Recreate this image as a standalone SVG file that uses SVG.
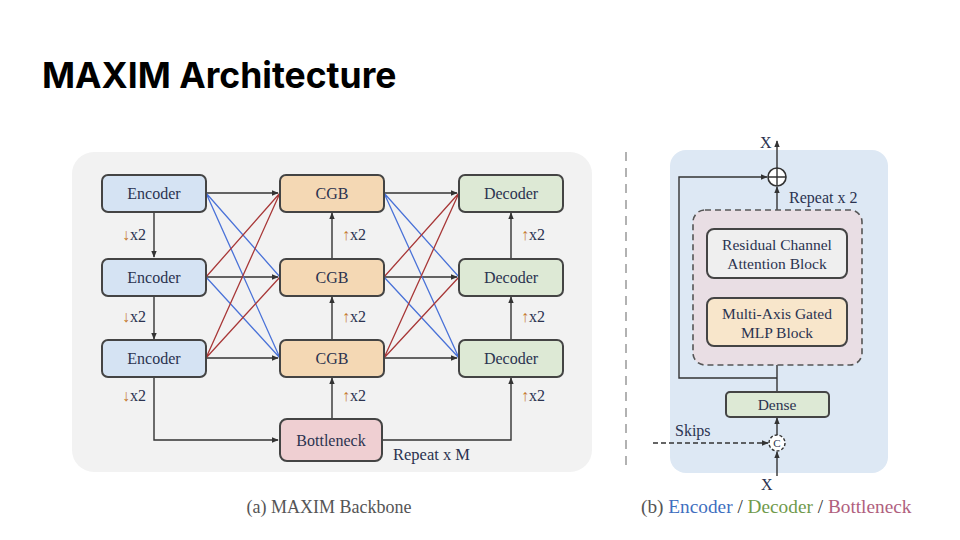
<svg xmlns="http://www.w3.org/2000/svg" width="960" height="540" viewBox="0 0 960 540">
<defs>
<marker id="ah" viewBox="0 0 10 10" refX="9" refY="5" markerWidth="5" markerHeight="5" orient="auto-start-reverse"><path d="M0,1 L10,5 L0,9 z" fill="#333"/></marker>
<style>
.box{stroke:#444;stroke-width:2}
.enc{fill:#d5e3f3}.cgb{fill:#f4d8b4}.dec{fill:#dde9d5}.bot{fill:#efcfd2}
.t{font-family:"Liberation Serif",serif;font-size:16px;fill:#2b3350;text-anchor:middle}
.r{font-size:15.5px}
.s{font-family:"Liberation Serif",serif;font-size:16px;fill:#2b3350}
.ln{stroke:#333;stroke-width:1.4;fill:none}
.bl{stroke:#4a72d8;stroke-width:1.3;fill:none}
.rd{stroke:#a83838;stroke-width:1.3;fill:none}
.ar{fill:#c57a30}
</style>
</defs>
<rect width="960" height="540" fill="#fff"/>
<text x="42" y="88" font-family="Inter, 'Liberation Sans', sans-serif" font-weight="700" font-size="35.5" fill="#000">MAXIM Architecture</text>

<rect x="72" y="152" width="520" height="320" rx="22" fill="#f2f2f2"/>
<rect x="670" y="150" width="218" height="323" rx="16" fill="#dde8f4"/>
<line x1="626" y1="152" x2="626" y2="470" stroke="#999" stroke-width="1.5" stroke-dasharray="9,7"/>

<g id="connectors">
<path class="ln" d="M206,193 H278" marker-end="url(#ah)"/>
<path class="ln" d="M206,277 H278" marker-end="url(#ah)"/>
<path class="ln" d="M206,358 H278" marker-end="url(#ah)"/>
<path class="ln" d="M384,193 H457" marker-end="url(#ah)"/>
<path class="ln" d="M384,277 H457" marker-end="url(#ah)"/>
<path class="ln" d="M384,358 H457" marker-end="url(#ah)"/>
<path class="ln" d="M154,212 V257" marker-end="url(#ah)"/>
<path class="ln" d="M154,296 V339" marker-end="url(#ah)"/>
<path class="ln" d="M154,377 V440 H278" marker-end="url(#ah)"/>
<path class="ln" d="M332,419 V378" marker-end="url(#ah)"/>
<path class="ln" d="M332,340 V297" marker-end="url(#ah)"/>
<path class="ln" d="M332,259 V213" marker-end="url(#ah)"/>
<path class="ln" d="M382,440 H511 V378" marker-end="url(#ah)"/>
<path class="ln" d="M511,340 V297" marker-end="url(#ah)"/>
<path class="ln" d="M511,259 V213" marker-end="url(#ah)"/>
<path class="bl" d="M206,193 L280,277 M206,193 L280,358 M206,277 L280,358"/>
<path class="rd" d="M206,277 L280,193 M206,358 L280,193 M206,358 L280,277"/>
<path class="bl" d="M384,193 L459,277 M384,193 L459,358 M384,277 L459,358"/>
<path class="rd" d="M384,277 L459,193 M384,358 L459,193 M384,358 L459,277"/>

<path class="ln" d="M777,186 V141" marker-end="url(#ah)"/>
<path class="ln" d="M777,378 H679 V177 H767" marker-end="url(#ah)"/>
<path class="ln" d="M777,229 V187" marker-end="url(#ah)"/>
<path class="ln" d="M777,298 V279" marker-end="url(#ah)"/>
<path class="ln" d="M777,392 V347" marker-end="url(#ah)"/>
<path class="ln" d="M777,435 V418" marker-end="url(#ah)"/>
<path class="ln" d="M777,476 V452" marker-end="url(#ah)"/>
<path class="ln" d="M653,443 H768" stroke-dasharray="5,3" marker-end="url(#ah)"/>
</g>

<g id="enc1"><rect class="box enc" x="102" y="175" width="104" height="37" rx="6"/><text class="t" x="154" y="199">Encoder</text></g>
<g id="enc2"><rect class="box enc" x="102" y="259" width="104" height="37" rx="6"/><text class="t" x="154" y="283">Encoder</text></g>
<g id="enc3"><rect class="box enc" x="102" y="340" width="104" height="37" rx="6"/><text class="t" x="154" y="364">Encoder</text></g>
<g id="cgb1"><rect class="box cgb" x="280" y="175" width="104" height="37" rx="6"/><text class="t" x="332" y="199">CGB</text></g>
<g id="cgb2"><rect class="box cgb" x="280" y="259" width="104" height="37" rx="6"/><text class="t" x="332" y="283">CGB</text></g>
<g id="cgb3"><rect class="box cgb" x="280" y="340" width="104" height="37" rx="6"/><text class="t" x="332" y="364">CGB</text></g>
<g id="dec1"><rect class="box dec" x="459" y="175" width="104" height="37" rx="6"/><text class="t" x="511" y="199">Decoder</text></g>
<g id="dec2"><rect class="box dec" x="459" y="259" width="104" height="37" rx="6"/><text class="t" x="511" y="283">Decoder</text></g>
<g id="dec3"><rect class="box dec" x="459" y="340" width="104" height="37" rx="6"/><text class="t" x="511" y="364">Decoder</text></g>
<g id="bottleneck"><rect class="box bot" x="280" y="419" width="102" height="42" rx="7"/><text class="t" x="331" y="446">Bottleneck</text></g>

<g id="labels">
<text class="s" x="122" y="240"><tspan class="ar">↓</tspan>x2</text>
<text class="s" x="122" y="322"><tspan class="ar">↓</tspan>x2</text>
<text class="s" x="122" y="401"><tspan class="ar">↓</tspan>x2</text>
<text class="s" x="342" y="240"><tspan class="ar">↑</tspan>x2</text>
<text class="s" x="342" y="322"><tspan class="ar">↑</tspan>x2</text>
<text class="s" x="342" y="401"><tspan class="ar">↑</tspan>x2</text>
<text class="s" x="521" y="240"><tspan class="ar">↑</tspan>x2</text>
<text class="s" x="521" y="322"><tspan class="ar">↑</tspan>x2</text>
<text class="s" x="521" y="401"><tspan class="ar">↑</tspan>x2</text>
<text class="s" x="393" y="460" style="font-size:16.5px">Repeat x M</text>
<text class="t" x="329" y="513" style="fill:#555;font-size:18px">(a) MAXIM Backbone</text>
</g>

<g id="repeat-block">
<rect x="693" y="210" width="169" height="155" rx="12" fill="#e9dee4" stroke="#555" stroke-width="1.6" stroke-dasharray="6,4"/>
<text class="s r" x="789" y="203">Repeat x 2</text>
</g>
<g id="rcab"><rect class="box" x="707" y="229" width="140" height="49" rx="7" fill="#efefef"/><text class="t r" x="777" y="250">Residual Channel</text><text class="t r" x="777" y="269">Attention Block</text></g>
<g id="mlp"><rect class="box" x="707" y="298" width="140" height="48" rx="7" fill="#f8e6cb"/><text class="t r" x="777" y="319">Multi-Axis Gated</text><text class="t r" x="777" y="338">MLP Block</text></g>
<g id="dense"><rect class="box dec" x="726" y="392" width="103" height="25" rx="4"/><text class="t r" x="777" y="410">Dense</text></g>
<g id="add"><circle cx="777" cy="177" r="9" fill="#fff" stroke="#333" stroke-width="1.6"/><path d="M768,177 H786 M777,168 V186" stroke="#333" stroke-width="1.4"/></g>
<g id="concat"><circle cx="777" cy="443" r="8" fill="#fff" stroke="#333" stroke-width="1.4" stroke-dasharray="3,2"/><text class="t" x="777" y="447" style="font-size:11px">C</text></g>
<text class="s r" x="675" y="436">Skips</text>
<text class="s r" x="760" y="148">X</text>
<text class="s r" x="761" y="490">X</text>
<text class="s" x="641" y="513" style="font-size:19.3px"><tspan fill="#555">(b) </tspan><tspan fill="#3f6fc0">Encoder</tspan><tspan fill="#333"> / </tspan><tspan fill="#6f9a4c">Decoder</tspan><tspan fill="#333"> / </tspan><tspan fill="#b0607e">Bottleneck</tspan></text>
</svg>
